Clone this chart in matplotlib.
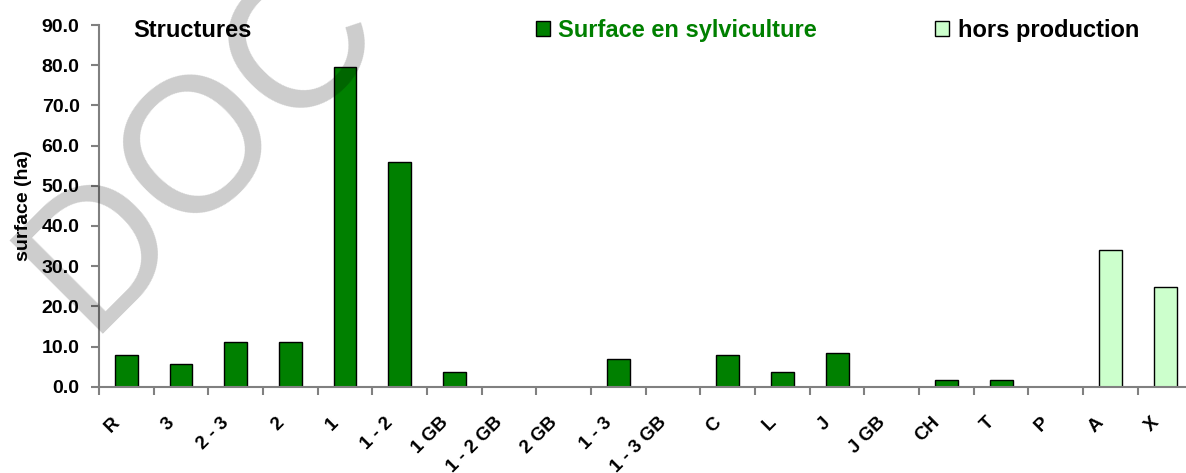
import matplotlib
matplotlib.use('Agg')
import matplotlib.pyplot as plt
from matplotlib.patches import Patch

plt.rcParams['font.family'] = ['Liberation Sans', 'DejaVu Sans']
plt.rcParams['font.weight'] = 'bold'

categories = ['R', '3', '2 - 3', '2', '1', '1 - 2', '1 GB', '1 - 2 GB', '2 GB', '1 - 3',
              '1 - 3 GB', 'C', 'L', 'J', 'J GB', 'CH', 'T', 'P', 'A', 'X']
# surface en sylviculture (R .. P)
sylv = [8.0, 5.6, 11.2, 11.2, 79.6, 56.0, 3.6, 0, 0, 6.8, 0, 8.0, 3.6, 8.5, 0, 1.6, 1.6, 0]
# hors production (A, X)
hors = [33.9, 24.7]

green = '#008000'
light = '#CCFFCC'
axis_col = '#808080'

W, H = 1186, 473
fig = plt.figure(figsize=(W/100, H/100), dpi=100)
ax = fig.add_axes([99/W, 1-386.7/H, 1093.4/W, (386.7-25)/H])

x1 = list(range(len(sylv)))
x2 = list(range(len(sylv), len(sylv) + len(hors)))
ax.bar(x1, sylv, width=0.42, color=green, edgecolor='black',
       linewidth=[1 if v > 0 else 0 for v in sylv], zorder=2)
ax.bar(x2, hors, width=0.42, color=light, edgecolor='black', linewidth=1, zorder=2)

ax.set_xlim(-0.5, len(categories) - 0.5)
ax.set_ylim(0, 90)
ax.set_yticks(range(0, 91, 10))
ax.set_yticklabels(['%.1f' % v for v in range(0, 91, 10)], fontsize=14, fontweight='bold')

# labels sit a little left of the category centre, like the original
off = 9 / 54.67
ax.set_xticks([i - off for i in range(len(categories))])
ax.set_xticklabels(categories, rotation=45, ha='right', va='center',
                   rotation_mode='anchor', fontsize=13.5, fontweight='bold')
ax.set_xticks([i - 0.5 for i in range(len(categories) + 1)], minor=True)
ax.tick_params(axis='x', which='major', length=0, pad=24)
ax.tick_params(axis='x', which='minor', length=6, color=axis_col, width=1.5, direction='out')
ax.tick_params(axis='y', length=6, color=axis_col, width=1.5, direction='out', pad=8)

for s in ['top', 'right']:
    ax.spines[s].set_visible(False)
for s in ['left', 'bottom']:
    ax.spines[s].set_color(axis_col)
    ax.spines[s].set_linewidth(1.5)
    ax.spines[s].set_zorder(3)

ax.set_ylabel('surface (ha)', fontsize=14, fontweight='bold', labelpad=7)

fig.text(133/W, 1-37/H, 'Structures', fontsize=17, fontweight='bold', va='baseline')

handles = [Patch(facecolor=green, edgecolor='black', linewidth=1),
           Patch(facecolor=light, edgecolor='black', linewidth=1)]
leg = fig.legend(handles, ['Surface en sylviculture', 'hors production'], ncol=2,
                 loc='center left', bbox_to_anchor=(536/W, 1-30/H), frameon=False,
                 prop={'size': 17, 'weight': 'bold'}, handlelength=0.6, handleheight=0.6,
                 handletextpad=0.35, columnspacing=5.0, borderpad=0, borderaxespad=0)
leg.get_texts()[0].set_color(green)

# watermark, one letter at a time along a 45 degree baseline
px, py = 136, 285
for ch in 'DOC':
    fig.text(px/W, 1-py/H, ch, fontsize=138, fontweight='normal', rotation=45,
             rotation_mode='anchor', ha='center', va='baseline', color='black',
             alpha=0.2, zorder=10)
    px += 101
    py -= 101

fig.savefig('out.png', dpi=100)
